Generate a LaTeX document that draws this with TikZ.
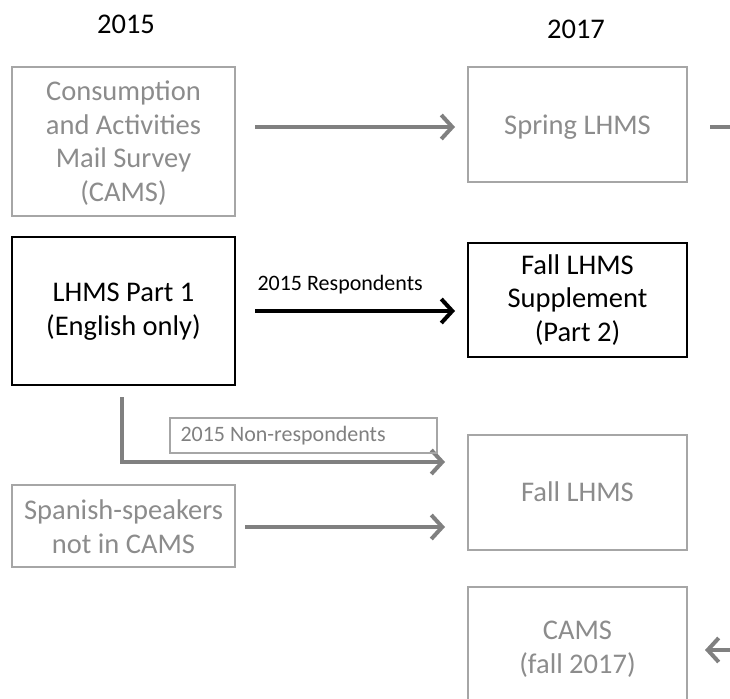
\documentclass[tikz,border=0pt]{standalone}
\usepackage{fontspec}
\setmainfont{Carlito}
\usetikzlibrary{arrows.meta}
\definecolor{boxgray}{HTML}{A6A6A6}
\definecolor{txtgray}{HTML}{8C8C8C}
\definecolor{arrgray}{HTML}{808080}
\tikzset{
  bigtext/.style={font=\fontsize{28.5}{33.7}\selectfont, align=center},
  graybox/.style={draw=boxgray, line width=2.5pt, text=txtgray, bigtext},
  blackbox/.style={draw=black, line width=2.5pt, text=black, bigtext},
  arr/.style={line width=4pt, -{Straight Barb[length=11pt,width=24pt,line width=4pt]}},
  grayarr/.style={arr, draw=arrgray},
  blackarr/.style={arr, draw=black},
  lbl/.style={font=\fontsize{22}{26}\selectfont},
}
\begin{document}
\begin{tikzpicture}[x=1pt,y=-1pt]
\useasboundingbox (0,0) rectangle (730,698);
\clip (0,0) rectangle (730,698);
% years
\node[bigtext] (y15) at (126,24) {2015};
\node[bigtext] (y17) at (576,29) {2017};
% boxes
\draw[graybox] (12,67) rectangle (235,216);
\node[bigtext, text=txtgray] (cams) at (123.5,143) {Consumption\\and Activities\\Mail Survey\\(CAMS)};

\draw[graybox] (468,67) rectangle (687,182);
\node[bigtext, text=txtgray] (spring) at (577.5,127) {Spring LHMS};

\draw[blackbox] (12,237) rectangle (235,385);
\node[bigtext] (p1) at (123.5,312) {LHMS Part 1\\(English only)};

\draw[blackbox] (468,243) rectangle (687,357);
\node[bigtext] (supp) at (577.5,300) {Fall LHMS\\Supplement\\(Part 2)};

\draw[graybox] (468,435) rectangle (687,550);
\node[bigtext, text=txtgray] (fall) at (577.5,492) {Fall LHMS};

\draw[graybox] (12,485) rectangle (235,567);
\node[bigtext, text=txtgray] (span) at (123.5,527) {Spanish-speakers\\not in CAMS};

\draw[graybox] (468,587) rectangle (687,712);
\node[bigtext, text=txtgray] (cf) at (577.5,649) {CAMS\\(fall 2017)};

% coordinates
\coordinate (a1s) at (255,127);
\coordinate (a1e) at (455,127);
\coordinate (a2s) at (255,311);
\coordinate (a2e) at (455,311);
\coordinate (a3s) at (122,397);
\coordinate (a3c) at (122,462);
\coordinate (a3e) at (445,462);
\coordinate (a4s) at (245,527);
\coordinate (a4e) at (445,527);
\coordinate (stubS) at (710,127);
\coordinate (stubE) at (735,127);
\coordinate (a5s) at (735,650);
\coordinate (a5e) at (705,650);

% arrows
\draw[grayarr] (a1s) -- (a1e);
\draw[draw=arrgray, line width=4pt] (stubS) -- (stubE);
\draw[blackarr] (a2s) -- (a2e);
\node[lbl, anchor=base west] (resp) at (254,290) {2015 Respondents};
\draw[grayarr] (a3s) -- (a3c) -- (a3e);
\draw[draw=boxgray, line width=1.3pt] (170,418) rectangle (437,453);
\node[lbl, text=arrgray, anchor=west] (nonresp) at (177,436) {2015 Non-respondents};
\draw[grayarr] (a4s) -- (a4e);
\draw[grayarr] (a5s) -- (a5e);
\end{tikzpicture}
\end{document}
